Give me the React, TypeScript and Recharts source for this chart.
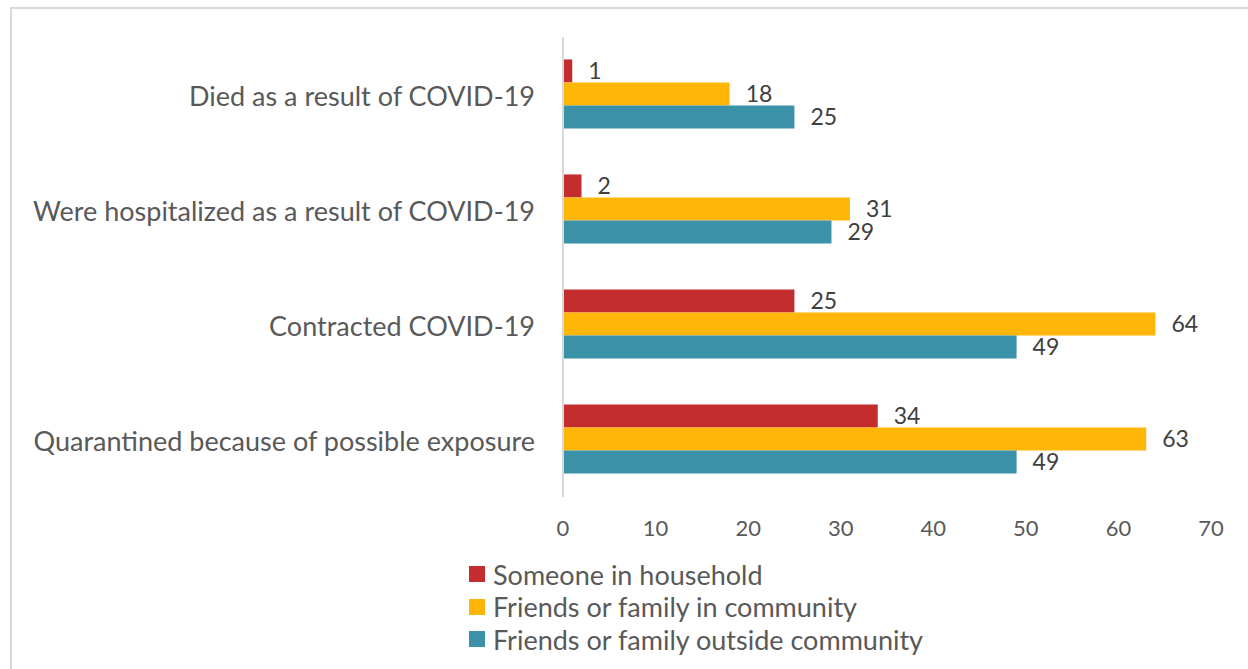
import React from "react";
import { BarChart, Bar, XAxis, YAxis, Legend, LabelList } from "recharts";

const categories = [
  "Died as a result of COVID-19",
  "Were hospitalized as a result of COVID-19",
  "Contracted COVID-19",
  "Quarantined because of possible exposure",
];
const household = [1, 2, 25, 34];
const inCommunity = [18, 31, 64, 63];
const outsideCommunity = [25, 29, 49, 49];
const xTicks = [0, 10, 20, 30, 40, 50, 60, 70];

const series = [
  { key: "household", name: "Someone in household", color: "#C32D2E" },
  { key: "inCommunity", name: "Friends or family in community", color: "#FFB606" },
  { key: "outsideCommunity", name: "Friends or family outside community", color: "#3A91A8" },
];

const data = categories.map((name, i) => ({
  name,
  household: household[i],
  inCommunity: inCommunity[i],
  outsideCommunity: outsideCommunity[i],
}));

const FONT = "Lato, 'Liberation Sans', sans-serif";

function LegendBox() {
  return (
    <div style={{ fontFamily: FONT, fontSize: 27, color: "#595959" }}>
      {series.map((s) => (
        <div key={s.key} style={{ display: "flex", alignItems: "center", height: 32.5 }}>
          <span style={{ width: 16, height: 16, background: s.color, marginRight: 8, display: "inline-block" }} />
          <span>{s.name}</span>
        </div>
      ))}
    </div>
  );
}

export default function App() {
  return (
    <div style={{ position: "fixed", left: 0, top: 0, width: 1248, height: 669, overflow: "hidden", background: "#fff" }}>
      <div
        style={{
          position: "absolute",
          left: 10,
          top: 7,
          width: 1300,
          height: 720,
          border: "2px solid #d9d9d9",
        }}
      />
      <div style={{ position: "absolute", left: 0, top: 0 }}>
        <BarChart
          width={1248}
          height={669}
          data={data}
          layout="vertical"
          margin={{ top: 37, right: 37, bottom: 142, left: 0 }}
          barCategoryGap="19.5%"
          barGap={0}
        >
          <XAxis
            type="number"
            domain={[0, 70]}
            ticks={xTicks}
            axisLine={false}
            tickLine={false}
            tickMargin={17}
            tick={{ fill: "#595959", fontSize: 22, fontFamily: FONT }}
          />
          <YAxis
            type="category"
            dataKey="name"
            width={563}
            axisLine={{ stroke: "#d9d9d9", strokeWidth: 2 }}
            tickLine={false}
            tickSize={0}
            tickMargin={28}
            tick={{ fill: "#595959", fontSize: 27, fontFamily: FONT, dy: 2 }}
          />
          <Legend
            layout="vertical"
            align="center"
            verticalAlign="middle"
            wrapperStyle={{ top: 558, left: 469, width: 700, height: 100 }}
            content={() => <LegendBox />}
          />
          {series.map((s) => (
            <Bar key={s.key} dataKey={s.key} name={s.name} fill={s.color} isAnimationActive={false}>
              <LabelList
                dataKey={s.key}
                position="right"
                offset={16}
                fill="#404040"
                fontSize={23}
                fontFamily={FONT}
              />
            </Bar>
          ))}
        </BarChart>
      </div>
    </div>
  );
}
